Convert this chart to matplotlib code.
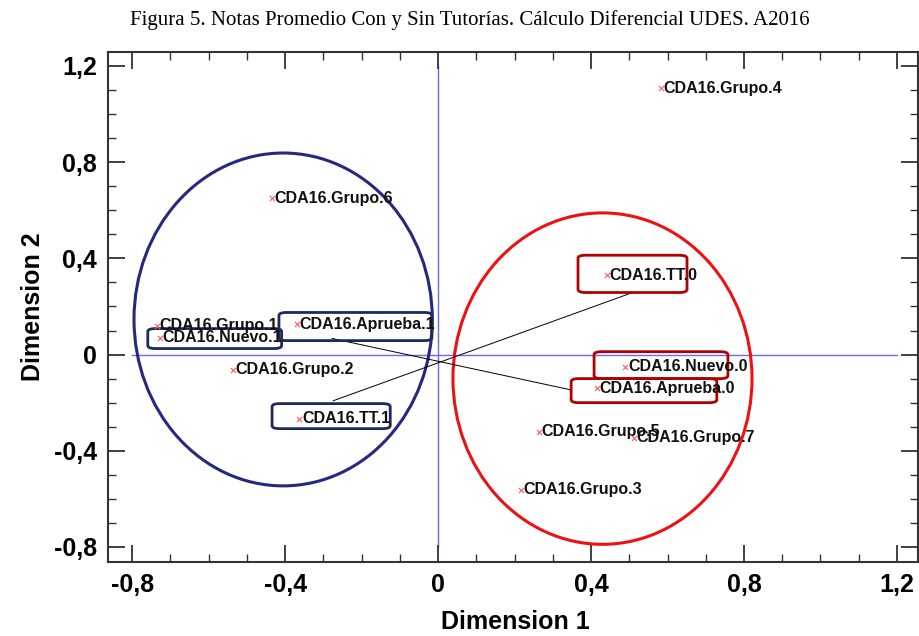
import numpy as np
import matplotlib
matplotlib.use('Agg')
import matplotlib.pyplot as plt
import matplotlib.patches as patches
from matplotlib.ticker import MultipleLocator, FuncFormatter

# Datos
etiquetas = ['CDA16.Grupo.4', 'CDA16.Grupo.6', 'CDA16.Grupo.1', 'CDA16.Nuevo.1',
             'CDA16.Aprueba.1', 'CDA16.Grupo.2', 'CDA16.TT.1', 'CDA16.TT.0',
             'CDA16.Nuevo.0', 'CDA16.Aprueba.0', 'CDA16.Grupo.5', 'CDA16.Grupo.7',
             'CDA16.Grupo.3']
dim1 = [0.583, -0.434, -0.735, -0.727, -0.369, -0.536, -0.363, 0.442,
        0.490, 0.415, 0.264, 0.512, 0.217]
dim2 = [1.108, 0.650, 0.120, 0.070, 0.125, -0.063, -0.267, 0.330,
        -0.050, -0.140, -0.320, -0.345, -0.563]

# Fuentes
fam_narrow = ['Liberation Sans Narrow', 'Liberation Sans', 'DejaVu Sans']

W_px, H_px = 920, 636
fig = plt.figure(figsize=(W_px / 100, H_px / 100), dpi=100)
ax = fig.add_axes([108 / W_px, 1 - 562 / H_px, (918 - 108) / W_px, (562 - 52) / H_px])

ax.set_xlim(-0.863, 1.255)
ax.set_ylim(-0.8625, 1.258)

# Ejes de referencia
ax.plot([-0.8, 1.2], [0, 0], color='#6a6aff', linewidth=1.0, zorder=1)
ax.plot([0, 0], [-0.8, 1.2], color='#6a6aff', linewidth=1.0, zorder=1)

# Elipses de agrupacion
ax.add_patch(patches.Ellipse((-0.405, 0.146), 0.78, 1.384, fill=False,
                             edgecolor='#27277f', linewidth=2.2, zorder=2))
ax.add_patch(patches.Ellipse((0.43, -0.10), 0.782, 1.378, fill=False,
                             edgecolor='#ee1111', linewidth=2.2, zorder=2))

# Lineas de union
ax.plot([-0.277, 0.345], [0.067, -0.146], color='black', linewidth=0.7, zorder=2)
ax.plot([-0.274, 0.502], [-0.192, 0.254], color='black', linewidth=0.7, zorder=2)

# Cajas redondeadas (x0, y0, ancho, alto, color)
cajas = [
    (-0.759, 0.025, 0.350, 0.083, '#1c2a5c'),
    (-0.416, 0.058, 0.400, 0.117, '#1c2a5c'),
    (-0.434, -0.308, 0.309, 0.104, '#1c2a5c'),
    (0.366, 0.258, 0.285, 0.155, '#b00000'),
    (0.408, -0.100, 0.350, 0.112, '#b00000'),
    (0.348, -0.200, 0.381, 0.100, '#b00000'),
]
for x0, y0, w, h, c in cajas:
    ax.add_patch(patches.FancyBboxPatch((x0, y0), w, h,
                                        boxstyle='round,pad=0,rounding_size=0.02',
                                        mutation_aspect=0.63,
                                        fill=False, edgecolor=c, linewidth=2.0, zorder=3))

# Puntos y etiquetas
ax.scatter(dim1, dim2, marker='x', s=14, color='#ff5a5a', linewidths=0.8, zorder=4)
for x, y, t in zip(dim1, dim2, etiquetas):
    ax.annotate(t, (x, y), xytext=(2, 0), textcoords='offset points',
                ha='left', va='center', fontsize=11.5, family=fam_narrow,
                fontweight='bold', color='#111111', zorder=5)

# Ticks
ax.xaxis.set_major_locator(MultipleLocator(0.4))
ax.xaxis.set_minor_locator(MultipleLocator(0.1))
ax.yaxis.set_major_locator(MultipleLocator(0.4))
ax.yaxis.set_minor_locator(MultipleLocator(0.1))

def fmt(v, pos):
    if abs(v) < 1e-9:
        return '0'
    return f'{v:.1f}'.replace('.', ',')

ax.xaxis.set_major_formatter(FuncFormatter(fmt))
ax.yaxis.set_major_formatter(FuncFormatter(fmt))
ax.tick_params(which='both', direction='in', top=True, right=True, color='#333333')
ax.tick_params(which='major', length=12, width=1.3, pad=8)
ax.tick_params(which='minor', length=6, width=1.0)
for lab in ax.get_xticklabels() + ax.get_yticklabels():
    lab.set_family(fam_narrow)
    lab.set_fontweight('bold')
    lab.set_fontsize(18)
for sp in ax.spines.values():
    sp.set_linewidth(1.5)
    sp.set_color('#333333')

ax.set_xlabel('Dimension 1', family=fam_narrow, fontweight='bold', fontsize=18)
ax.set_ylabel('Dimension 2', family=fam_narrow, fontweight='bold', fontsize=18, labelpad=6)
ax.xaxis.set_label_coords((515 - 108) / (918 - 108), -(610 - 562) / (562 - 52))

fig.text(470 / W_px, 1 - 20 / H_px,
         'Figura 5. Notas Promedio Con y Sin Tutorías. Cálculo Diferencial UDES. A2016',
         ha='center', va='center', fontsize=15, family=['Liberation Serif', 'DejaVu Serif'])

fig.savefig('out.png', dpi=100)
